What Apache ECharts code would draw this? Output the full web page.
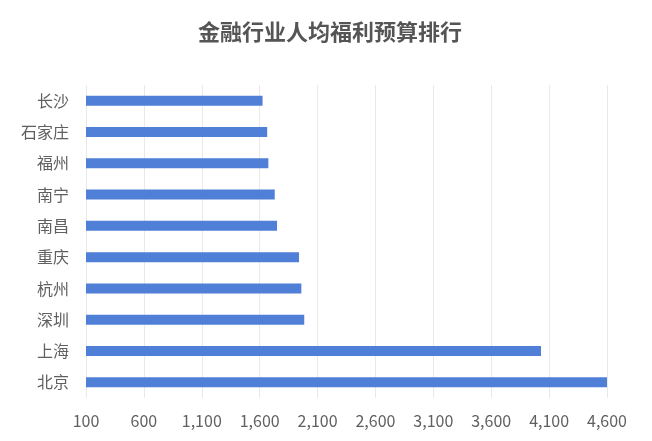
<!DOCTYPE html>
<html>
<head>
<meta charset="utf-8">
<script src="https://cdn.jsdelivr.net/npm/echarts@6/dist/echarts.min.js"></script>
<style>
html,body{margin:0;padding:0;background:#fff;}
#chart{width:652px;height:441px;}
</style>
</head>
<body>
<div id="chart"></div>
<script>
const titleText = '金融行业人均福利预算排行';
const cities = ['北京', '上海', '深圳', '杭州', '重庆', '南昌', '南宁', '福州', '石家庄', '长沙'];
const budget = [4600, 4030, 1985, 1960, 1940, 1750, 1730, 1675, 1665, 1625];
const axisMin = 100;
const axisMax = 4600;
const axisStep = 500;

const chart = echarts.init(document.getElementById('chart'));
chart.setOption({
  animation: false,
  backgroundColor: '#fff',
  title: {
    text: titleText,
    left: 198,
    top: 21,
    padding: 0,
    textStyle: {
      fontFamily: 'Noto Sans CJK SC',
      fontSize: 22,
      fontWeight: 'bold',
      color: '#555555'
    }
  },
  grid: {
    left: 86,
    right: 45,
    top: 85,
    bottom: 43,
    containLabel: false
  },
  xAxis: {
    type: 'value',
    min: axisMin,
    max: axisMax,
    interval: axisStep,
    axisLine: { show: false },
    axisTick: { show: false },
    splitLine: { show: true, lineStyle: { color: '#e9e9e9', width: 1 } },
    axisLabel: {
      margin: 15,
      fontFamily: 'Noto Sans CJK SC',
      fontSize: 16,
      color: '#606060',
      formatter: function (v) { return v.toLocaleString('en-US'); }
    }
  },
  yAxis: {
    type: 'category',
    data: cities,
    axisLine: { show: false },
    axisTick: { show: false },
    splitLine: { show: false },
    axisLabel: {
      margin: 17,
      fontFamily: 'Noto Sans CJK SC',
      fontSize: 16,
      color: '#606060'
    }
  },
  series: [{
    type: 'bar',
    data: budget,
    barWidth: 10,
    itemStyle: { color: '#4f7fd6' }
  }]
});
</script>
</body>
</html>
